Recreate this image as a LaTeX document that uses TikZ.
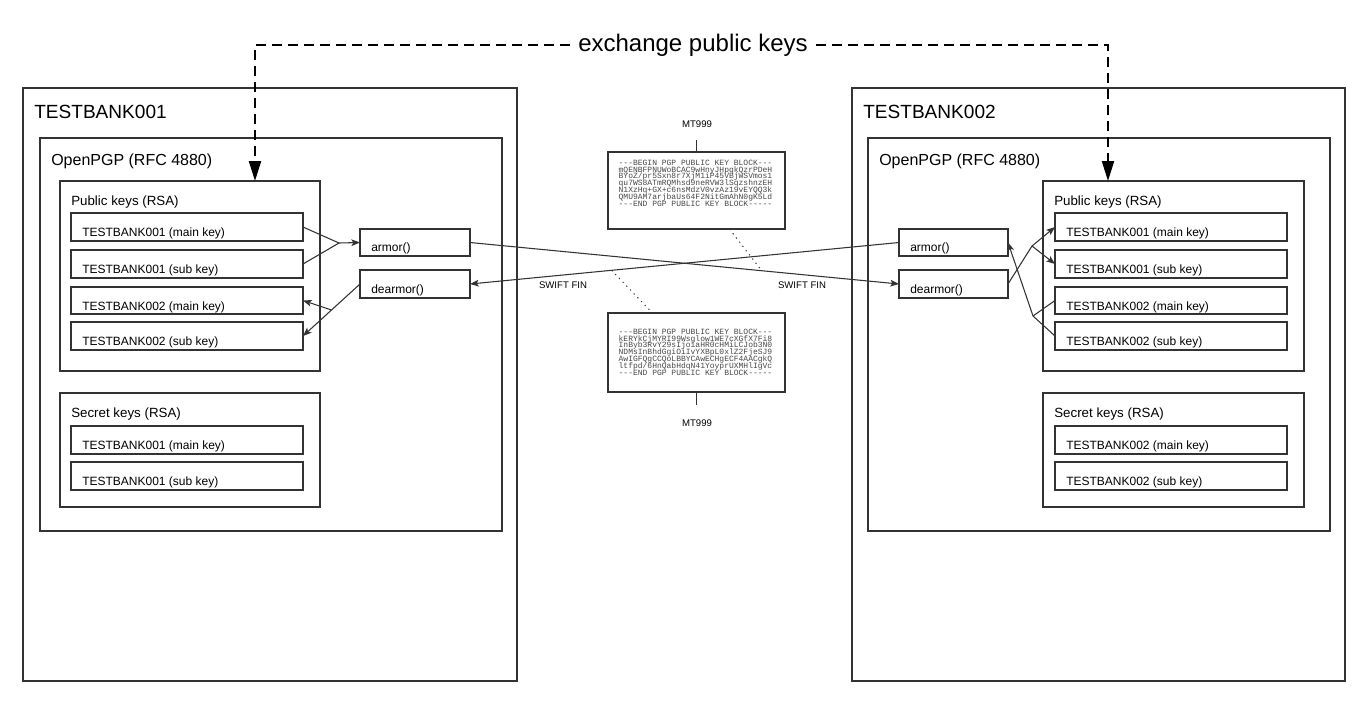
\documentclass[tikz,border=0pt]{standalone}
\usepackage{fontspec}
\setmainfont{Liberation Sans}
\newfontfamily\pgpmono{Liberation Mono}
\usetikzlibrary{arrows.meta,calc}
\definecolor{linec}{HTML}{333333}
\newcommand\pgpfont{\pgpmono\fontsize{6}{5.1}\selectfont}
% name, x1, y1, x2, y2, baseline offset, font, text
\newcommand\mkbox[8]{%
  \node[box, minimum width={(#4-#2)*0.75pt}, minimum height={(#5-#3)*0.75pt}] (#1) at ({(#2+#4)/2},{(#3+#5)/2}) {};
  \node[lbl, font=#7] (#1-t) at ({#2+11},{#3+#6}) {#8};}
\begin{document}
\lineskiplimit=-100pt\relax
\begin{tikzpicture}[x=0.75pt,y=-0.75pt,
  box/.style={draw=linec, line width=0.8pt, inner sep=0pt, outer sep=0pt},
  lbl/.style={anchor=base west, inner sep=0pt, text=black},
  conn/.style={draw=linec, line width=0.8pt},
  arr/.style={-{Stealth[length=6.5pt,width=5pt,inset=1.5pt]}},
  dsh/.style={draw=black, line width=1.6pt, dash pattern=on 7.5pt off 4.5pt,
              -{Triangle[length=15pt,width=9pt]}},
  dot/.style={draw=linec, line width=0.7pt, dash pattern=on 1pt off 3pt},
  small/.style={font=\fontsize{7.2}{8}\selectfont, inner sep=1pt, text=black},
  pgptxt/.style={align=left, inner sep=0pt, text=black!72, font=\pgpfont}
]
\useasboundingbox (0,0) rectangle (1368,704);
\def\fA{\fontsize{14.3}{16}\selectfont}
\def\fB{\fontsize{12}{14}\selectfont}
\def\fC{\fontsize{10}{12}\selectfont}
\def\fD{\fontsize{9}{11}\selectfont}

% ---- bank 1
\mkbox{bank1}{23}{88}{517}{681}{30}{\fA}{TESTBANK001}
\mkbox{pgp1}{40}{138}{502}{531}{27}{\fB}{OpenPGP (RFC 4880)}
\mkbox{pub1}{60}{181}{320}{371}{24}{\fC}{Public keys (RSA)}
\mkbox{k11m}{71}{213}{303}{241}{23}{\fD}{TESTBANK001 (main key)}
\mkbox{k11s}{71}{250}{303}{278}{23}{\fD}{TESTBANK001 (sub key)}
\mkbox{k12m}{71}{287}{303}{314}{23}{\fD}{TESTBANK002 (main key)}
\mkbox{k12s}{71}{322}{303}{350}{23}{\fD}{TESTBANK002 (sub key)}
\mkbox{sec1}{60}{393}{320}{507}{24}{\fC}{Secret keys (RSA)}
\mkbox{s11m}{71}{426}{303}{454}{23}{\fD}{TESTBANK001 (main key)}
\mkbox{s11s}{71}{462}{303}{490}{23}{\fD}{TESTBANK001 (sub key)}
\mkbox{armL}{360}{229}{470}{256}{22}{\fD}{armor()}
\mkbox{dearL}{360}{270}{470}{298}{23}{\fD}{dearmor()}

% ---- bank 2
\mkbox{bank2}{852}{88}{1345}{681}{30}{\fA}{TESTBANK002}
\mkbox{pgp2}{868}{138}{1330}{531}{27}{\fB}{OpenPGP (RFC 4880)}
\mkbox{pub2}{1043}{181}{1304}{371}{24}{\fC}{Public keys (RSA)}
\mkbox{k21m}{1055}{213}{1287}{241}{23}{\fD}{TESTBANK001 (main key)}
\mkbox{k21s}{1055}{250}{1287}{278}{23}{\fD}{TESTBANK001 (sub key)}
\mkbox{k22m}{1055}{287}{1287}{314}{23}{\fD}{TESTBANK002 (main key)}
\mkbox{k22s}{1055}{322}{1287}{350}{23}{\fD}{TESTBANK002 (sub key)}
\mkbox{sec2}{1043}{393}{1304}{507}{24}{\fC}{Secret keys (RSA)}
\mkbox{s22m}{1055}{426}{1287}{454}{23}{\fD}{TESTBANK002 (main key)}
\mkbox{s22s}{1055}{462}{1287}{490}{23}{\fD}{TESTBANK002 (sub key)}
\mkbox{armR}{899}{229}{1008}{256}{22}{\fD}{armor()}
\mkbox{dearR}{899}{270}{1008}{298}{23}{\fD}{dearmor()}

% ---- PGP key blocks
\node[box, minimum width={177*0.75pt}, minimum height={77*0.75pt}] (blk1) at (696.5,190.5) {};
\node[pgptxt] (blk1-t) at (695.5,183) {%
---BEGIN PGP PUBLIC KEY BLOCK---\\
mQENBFPNUWoBCAC9wHnyJHpqkQzrPDeH\\
BYoZ/pr5Sxn8r7XjM1iP45VBjWSVmos1\\
qu7WS8ATmRQMhsd9neRVW3lSqzshnzEH\\
N1XzHq+GX+c6nsMdzV0vzAz19vEYQQ3k\\
QMU9AM7arjbaUs64F2NitGmAhN0gK5Ld\\
---END PGP PUBLIC KEY BLOCK-----};
\node[box, minimum width={177*0.75pt}, minimum height={79*0.75pt}] (blk2) at (696.5,352.5) {};
\node[pgptxt] (blk2-t) at (695.5,352) {%
---BEGIN PGP PUBLIC KEY BLOCK---\\
kERYkCjMYRI99Wsglow1WE7cXGfX7Fi8\\
InByb3RvY29sIjoiaHR0cHMiLCJob3N0\\
NDMsInBhdGgiOiIvYXBpL0xlZ2FjeSJ9\\
AwIGFQgCCQoLBBYCAwECHgECF4AACgkQ\\
ltfpd/6HnQabHdqN41YoyprUXMHlIgVc\\
---END PGP PUBLIC KEY BLOCK-----};

\node[small] (mt1) at (697,124) {MT999};
\coordinate (mt1s) at (696.5,140);
\draw[conn] (mt1s) -- (blk1.north);
\node[small] (mt2) at (697,423) {MT999};
\coordinate (mt2n) at (696.5,405);
\draw[conn] (blk2.south) -- (mt2n);

% ---- exchange public keys
\node[inner sep=0pt, inner xsep=6pt, font=\fontsize{18}{20}\selectfont] (ex) at (693,45) {exchange public keys};
\draw[dsh] (ex.west) -| ($(pub1.north west)+(195,0)$);
\draw[dsh] (ex.east) -| ($(pub2.north west)+(65,0)$);

% ---- left connectors
\coordinate (jL1) at (339,243);
\draw[conn] (k11m.east) -- (jL1);
\draw[conn] (k11s.east) -- (jL1);
\draw[conn,arr] (jL1) -- (armL.west);
\draw[conn,arr] (dearL.west) -- (k12s.east);
\coordinate (jL2) at ($(dearL.west)!0.5!(k12s.east)$);
\draw[conn,arr] (jL2) -- (k12m.east);

% ---- right connectors
\coordinate (jR1) at (1032,246);
\draw[conn] (dearR.east) -- (jR1);
\draw[conn,arr] (jR1) -- (k21m.west);
\draw[conn,arr] (jR1) -- (k21s.west);
\coordinate (jR2) at (1033,316);
\draw[conn] (k22m.west) -- (jR2);
\draw[conn] (k22s.west) -- (jR2);
\draw[conn,arr] (jR2) -- (armR.east);

% ---- SWIFT FIN transfers
\draw[conn,arr] (armL.east) -- (dearR.west);
\draw[conn,arr] (armR.west) -- (dearL.east);
\node[small] (sw1) at (563,285) {SWIFT FIN};
\node[small] (sw2) at (802,285) {SWIFT FIN};

% ---- dotted attachments
\draw[dot] ($(blk1.south)+(33,0)$) -- ($(armL.east)!0.68!(dearR.west)$);
\draw[dot] ($(armR.west)!0.67!(dearL.east)$) -- ($(blk2.north)+(-44,0)$);
\end{tikzpicture}
\end{document}
